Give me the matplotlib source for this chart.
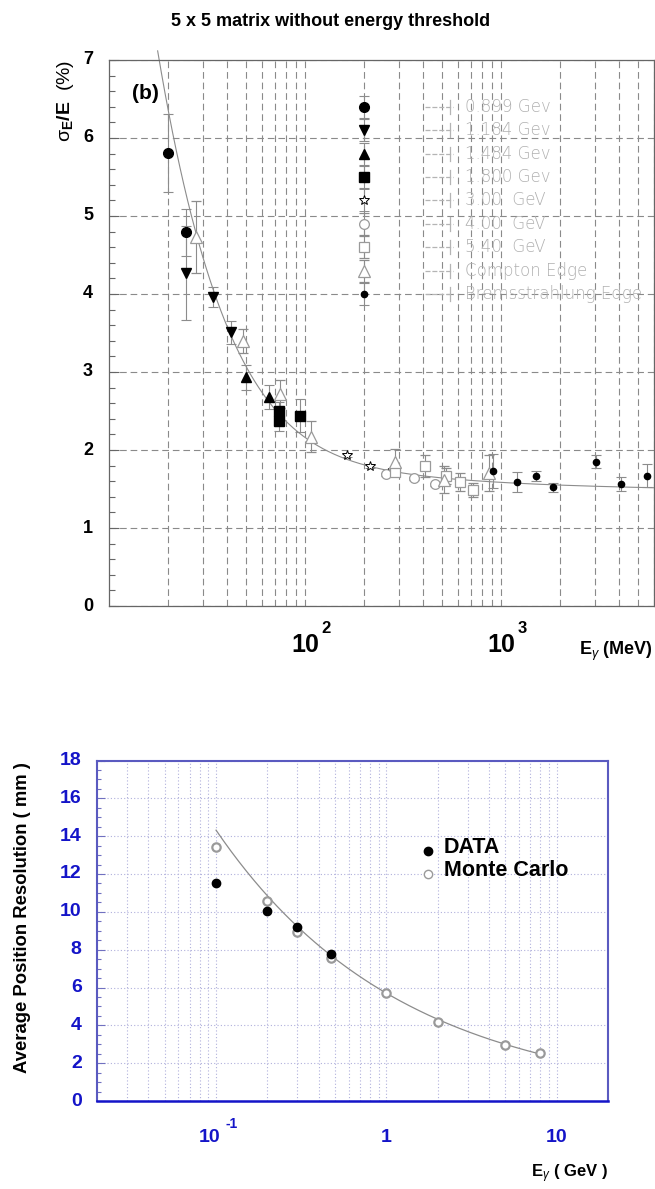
import numpy as np
import matplotlib
matplotlib.use('Agg')
import matplotlib.pyplot as plt
from matplotlib.ticker import FixedLocator, LogLocator, MultipleLocator, NullFormatter

plt.rcParams['font.family'] = ['Liberation Sans', 'DejaVu Sans']
plt.rcParams['mathtext.fontset'] = 'custom'
plt.rcParams['mathtext.rm'] = 'Liberation Sans'
plt.rcParams['mathtext.it'] = 'Liberation Sans:italic'
plt.rcParams['mathtext.bf'] = 'Liberation Sans:bold'

# ---- upper panel: energy resolution, E in MeV, sigma/E in % ----
e899 = [20.1, 24.7]
r899 = [5.81, 4.79]
d899 = [0.50, 0.30]

e1184 = [24.7, 33.9, 41.9]
r1184 = [4.27, 3.96, 3.51]
d1184 = [0.60, 0.13, 0.15]

e1484 = [49.8, 65.4]
r1484 = [2.93, 2.68]
d1484 = [0.16, 0.15]

e1800 = [73.2, 73.2, 93.6]
r1800 = [2.50, 2.37, 2.44]
d1800 = [0.12, 0.12, 0.21]

e3000 = [164, 214, 264]
r3000 = [1.93, 1.79, 1.71]
d3000 = [0.02, 0.02, 0.02]

e4000 = [258, 359, 460]
r4000 = [1.69, 1.64, 1.56]
d4000 = [0.02, 0.02, 0.02]

e5400 = [287, 409, 522, 614, 715]
r5400 = [1.72, 1.79, 1.67, 1.59, 1.49]
d5400 = [0.03, 0.14, 0.10, 0.11, 0.09]

ecomp = [27.8, 48.3, 74.1, 106.8, 287, 508, 863]
rcomp = [4.73, 3.40, 2.72, 2.17, 1.84, 1.62, 1.70]
dcomp = [0.46, 0.15, 0.18, 0.20, 0.17, 0.17, 0.23]

ebrem = [909, 1197, 1500, 1827, 3047, 4056, 5495]
rbrem = [1.73, 1.59, 1.67, 1.52, 1.85, 1.56, 1.67]
dbrem = [0.22, 0.125, 0.065, 0.055, 0.085, 0.09, 0.145]

legend_names = ['0.899 Gev', '1.184 Gev', '1.484 Gev', '1.800 Gev', '3.00  GeV',
                '4.00  GeV', '5.40  GeV', 'Compton Edge', 'Bremsstrahlung Edge']

# fit: sigma/E = a/E (+) b/E^(1/4) (+) c, E in GeV
fit_a, fit_b, fit_c = 0.12, 0.58, 1.47

# ---- lower panel: position resolution ----
e_data = [0.1, 0.2, 0.3, 0.47]
res_data = [11.52, 10.04, 9.19, 7.78]
e_mc = [0.1, 0.2, 0.3, 0.47, 1.0, 2.0, 5.0, 8.0]
res_mc = [13.45, 10.58, 8.91, 7.55, 5.73, 4.16, 2.96, 2.52]
pos_a, pos_p = 5.7, 0.4   # resolution = a / E^p


def resolution(e_mev):
    e = e_mev / 1000.0
    return np.sqrt((fit_a / e) ** 2 + (fit_b / e ** 0.25) ** 2 + fit_c ** 2)


fig = plt.figure(figsize=(6.55, 11.89), dpi=100)
W, H = 655.0, 1189.0

# ================= upper panel =================
ax1 = fig.add_axes([109 / W, 1 - 606 / H, 545 / W, 546 / H])
ax1.set_xscale('log')
ax1.set_xlim(10, 6000)
ax1.set_ylim(0, 7)

ax1.xaxis.set_major_locator(FixedLocator([100, 1000]))
ax1.xaxis.set_minor_locator(LogLocator(base=10, subs=range(2, 10)))
ax1.xaxis.set_major_formatter(NullFormatter())
ax1.xaxis.set_minor_formatter(NullFormatter())
ax1.yaxis.set_major_locator(MultipleLocator(1))
ax1.yaxis.set_minor_locator(MultipleLocator(0.2))
ax1.set_yticklabels([])
ax1.tick_params(axis='x', which='both', length=0)
ax1.tick_params(axis='y', which='major', direction='in', length=7, color='#666666', width=0.8)
ax1.tick_params(axis='y', which='minor', direction='in', length=4, color='#666666', width=0.8)
ax1.grid(which='both', axis='x', color='#8a8a8a', lw=0.8, ls=(0, (6, 3.5)))
ax1.grid(which='major', axis='y', color='#8a8a8a', lw=0.8, ls=(0, (6, 3.5)))
for sp in ax1.spines.values():
    sp.set_color('#666666')
    sp.set_linewidth(0.9)

ecurve = np.logspace(np.log10(17.7), np.log10(6000), 400)
ax1.plot(ecurve, resolution(ecurve), color='#8c8c8c', lw=0.8, clip_on=False, zorder=2)

err_kw = dict(ls='none', ecolor='#8c8c8c', elinewidth=0.8, capsize=3.6, capthick=0.8, zorder=3)
styles = [
    (e899, r899, d899, dict(marker='o', ms=7, mfc='black', mec='black')),
    (e1184, r1184, d1184, dict(marker='v', ms=7.5, mfc='black', mec='black')),
    (e1484, r1484, d1484, dict(marker='^', ms=7.5, mfc='black', mec='black')),
    (e1800, r1800, d1800, dict(marker='s', ms=6.5, mfc='black', mec='black')),
    (e3000, r3000, d3000, dict(marker='*', ms=7, mfc='white', mec='black', mew=0.7)),
    (e4000, r4000, d4000, dict(marker='o', ms=7, mfc='white', mec='#9a9a9a', mew=0.9)),
    (e5400, r5400, d5400, dict(marker='s', ms=6.5, mfc='white', mec='#9a9a9a', mew=0.9)),
    (ecomp, rcomp, dcomp, dict(marker='^', ms=8, mfc='white', mec='#9a9a9a', mew=0.9)),
    (ebrem, rbrem, dbrem, dict(marker='o', ms=4.5, mfc='black', mec='black')),
]
for ex, ry, dy, mk in styles:
    ax1.errorbar(ex, ry, yerr=dy, **err_kw, **mk)

# legend block drawn inside the frame
leg_x = 200
leg_y = 6.40 - 0.30 * np.arange(len(legend_names))
for (ex, ry, dy, mk), yy, name in zip(styles, leg_y, legend_names):
    ax1.errorbar([leg_x], [yy], yerr=[0.14], **err_kw, **mk)
    ax1.plot([408, 569], [yy, yy], color='#b4b4b4', lw=0.9, ls=(0, (4, 1.5)), zorder=3)
    ax1.plot([550, 550], [yy - 0.09, yy + 0.09], color='#b4b4b4', lw=0.9, zorder=3)
    ax1.text(656, yy, name, color='#b0b0b0', fontsize=12, family='DejaVu Sans',
             weight='light', va='center', ha='left', zorder=4)

ax1.text(0.042, 0.938, '(b)', transform=ax1.transAxes, fontsize=15, weight='bold',
         va='center', ha='left')

# axis labels in the upper panel
for yv in range(0, 8):
    ax1.annotate(str(yv), xy=(0, yv), xycoords=('axes fraction', 'data'),
                 xytext=(-11.5, 0), textcoords='offset points',
                 ha='right', va='center', fontsize=13, weight='bold')
for xv, ex in [(100, '2'), (1000, '3')]:
    ax1.annotate('10', xy=(xv, 0), xycoords=('data', 'axes fraction'),
                 xytext=(0, -19.5), textcoords='offset points',
                 ha='center', va='top', fontsize=18, weight='bold')
    ax1.annotate(ex, xy=(xv, 0), xycoords=('data', 'axes fraction'),
                 xytext=(12, -11), textcoords='offset points',
                 ha='left', va='top', fontsize=12, weight='bold')

fig.text(653 / W, 1 - 655 / H, r'$\mathbf{E}_{\gamma}$ (MeV)', ha='right',
         va='baseline', fontsize=13, weight='bold')
fig.text(65 / W, 1 - 60 / H, r'$\mathrm{\sigma}_{\mathbf{E}}\mathbf{/E}$  (%)',
         rotation=90, ha='center', va='top', fontsize=14)
fig.text(0.505, 1 - 22 / H, '5 x 5 matrix without energy threshold',
         ha='center', va='center', fontsize=13, weight='bold')

# ================= lower panel =================
blue = '#1414c8'
ax2 = fig.add_axes([97 / W, 1 - 1101 / H, 511 / W, 340.5 / H])
ax2.set_xscale('log')
ax2.set_xlim(0.02, 20)
ax2.set_ylim(0, 18)
ax2.xaxis.set_major_locator(FixedLocator([0.1, 1, 10]))
ax2.xaxis.set_minor_locator(LogLocator(base=10, subs=range(2, 10)))
ax2.xaxis.set_major_formatter(NullFormatter())
ax2.xaxis.set_minor_formatter(NullFormatter())
ax2.yaxis.set_major_locator(MultipleLocator(2))
ax2.yaxis.set_minor_locator(MultipleLocator(0.5))
ax2.set_yticklabels([])
ax2.tick_params(axis='x', which='both', length=0)
ax2.tick_params(axis='y', which='major', direction='in', length=6, color='#7070c0', width=0.8)
ax2.tick_params(axis='y', which='minor', direction='in', length=3, color='#7070c0', width=0.8)
ax2.grid(which='both', axis='x', color='#b0b0dc', lw=0.8, ls=(0, (1, 2)))
ax2.grid(which='major', axis='y', color='#b0b0dc', lw=0.8, ls=(0, (1, 2)))
for sp in ax2.spines.values():
    sp.set_color('#5a5ac0')
    sp.set_linewidth(1.5)
ax2.spines['bottom'].set_color(blue)
ax2.spines['bottom'].set_linewidth(1.8)

epos = np.logspace(-1, np.log10(8), 300)
ax2.plot(epos, pos_a / epos ** pos_p, color='#8c8c8c', lw=0.9, zorder=2)
ax2.plot(e_mc, res_mc, 'o', ms=6, mfc='white', mec='#9a9a9a', mew=1.6, zorder=3)
ax2.plot(e_data, res_data, 'o', ms=6, mfc='black', mec='black', zorder=4)

ax2.plot([1.76], [13.24], 'o', ms=6, mfc='black', mec='black')
ax2.plot([1.76], [12.01], 'o', ms=6, mfc='white', mec='#9a9a9a', mew=1.0)
ax2.text(2.17, 13.41, 'DATA', fontsize=15.5, weight='bold', va='center', ha='left')
ax2.text(2.17, 12.17, 'Monte Carlo', fontsize=15.5, weight='bold', va='center', ha='left')

for yv in range(0, 19, 2):
    ax2.annotate(str(yv), xy=(0, yv), xycoords=('axes fraction', 'data'),
                 xytext=(-11, 0), textcoords='offset points', color=blue,
                 ha='right', va='center', fontsize=14, weight='bold')
ax2.annotate('10', xy=(0.1, 0), xycoords=('data', 'axes fraction'),
             xytext=(-5, -20.5), textcoords='offset points', color=blue,
             ha='center', va='top', fontsize=14, weight='bold')
ax2.annotate('-1', xy=(0.1, 0), xycoords=('data', 'axes fraction'),
             xytext=(6.5, -11.5), textcoords='offset points', color=blue,
             ha='left', va='top', fontsize=10, weight='bold')
for xv, lab in [(1, '1'), (10, '10')]:
    ax2.annotate(lab, xy=(xv, 0), xycoords=('data', 'axes fraction'),
                 xytext=(0, -20.5), textcoords='offset points', color=blue,
                 ha='center', va='top', fontsize=14, weight='bold')

fig.text(608 / W, 1 - 1177 / H, r'$\mathbf{E}_{\gamma}$ ( GeV )', ha='right',
         va='baseline', fontsize=12, weight='bold')
fig.text(23 / W, 1 - 762 / H, 'Average Position Resolution ( mm )', rotation=90,
         ha='center', va='top', fontsize=13.3, weight='bold')

fig.savefig('out.png', dpi=100)
